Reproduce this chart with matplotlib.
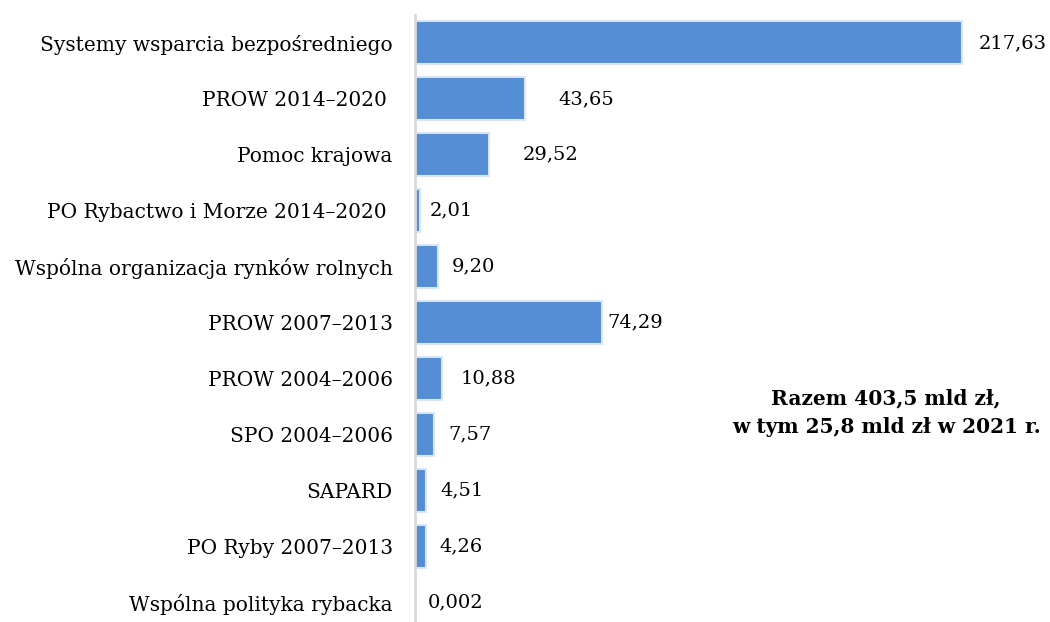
import numpy as np
import matplotlib.pyplot as plt

# dane (mld zł)
categories = ['Systemy wsparcia bezpośredniego', 'PROW 2014–2020 ', 'Pomoc krajowa',
              'PO Rybactwo i Morze 2014–2020 ', 'Wspólna organizacja rynków rolnych',
              'PROW 2007–2013', 'PROW 2004–2006', 'SPO 2004–2006', 'SAPARD',
              'PO Ryby 2007–2013', 'Wspólna polityka rybacka']
values = [217.63, 43.65, 29.52, 2.01, 9.20, 74.29, 10.88, 7.57, 4.51, 4.26, 0.002]
value_labels = ['217,63', '43,65', '29,52', '2,01', '9,20', '74,29', '10,88', '7,57',
                '4,51', '4,26', '0,002']
# przesunięcie etykiet od końca słupka (pt)
offsets = [12, 24, 24, 7, 10, 4, 13, 10, 10, 10, 9]

plt.rcParams['font.family'] = ['DejaVu Serif']

fig = plt.figure(figsize=(10.5, 6.22), dpi=100)
ax = fig.add_axes([415/1050, -8/622, 635/1050, 615/622])

y = np.arange(len(values))
ax.barh(y, values, height=0.77, color='#558ED5', edgecolor='#DCE6F2', linewidth=1.5)
ax.set_ylim(len(values) - 0.5, -0.5)
ax.set_xlim(0, 635/2.513)

for i, v in enumerate(values):
    ax.annotate(value_labels[i], (v, i), xytext=(offsets[i], 0), textcoords='offset points',
                va='center', ha='left', fontsize=14, color='#000000')

ax.set_yticks(y)
ax.set_yticklabels(categories, fontsize=14.5)
ax.tick_params(axis='y', length=0, pad=16)
ax.set_xticks([])
for s in ['top', 'right', 'bottom']:
    ax.spines[s].set_visible(False)
ax.spines['left'].set_color('#D9D9D9')
ax.spines['left'].set_linewidth(2)

fig.text(886/1050, 1 - 413/622, 'Razem 403,5 mld zł,\nw tym 25,8 mld zł w 2021 r.',
         ha='center', va='center', fontsize=14.5, fontweight='bold', linespacing=1.55)

fig.savefig('out.png', dpi=100)
